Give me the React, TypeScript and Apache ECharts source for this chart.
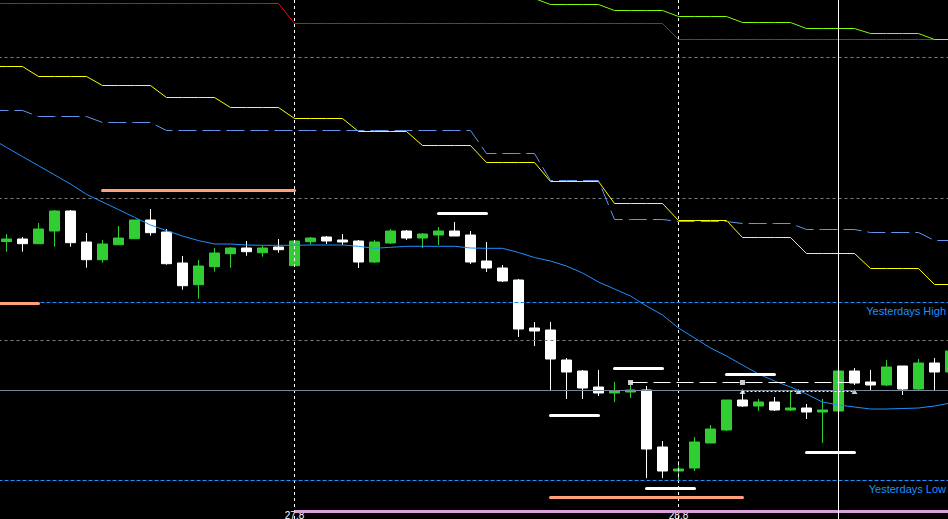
import { useEffect, useRef } from 'react';
import * as echarts from 'echarts';

// ---- candles (bar index 0..59) ----
const opens = [
  1.102405, 1.10243, 1.102383, 1.10251, 1.10271, 1.1024, 1.102223, 1.102373, 1.102433, 1.10262,
  1.1025, 1.10219, 1.101973, 1.102153, 1.102283, 1.10234, 1.102293, 1.10235, 1.102163, 1.102403,
  1.10245, 1.10242, 1.10241, 1.1022, 1.10239, 1.10251, 1.10244, 1.10247, 1.10251, 1.10247,
  1.10221, 1.10214, 1.10202, 1.10154, 1.10152, 1.10122, 1.10111, 1.10095, 1.10089, 1.1009,
  1.10092, 1.10035, 1.10011, 1.10014, 1.10039, 1.10052, 1.10082, 1.10076, 1.1008, 1.10072,
  1.10074, 1.1007, 1.10071, 1.10111, 1.101, 1.10097, 1.10116, 1.10093, 1.10119, 1.1011,
];
const closes = [
  1.10243, 1.102383, 1.10253, 1.10271, 1.102393, 1.102223, 1.10238, 1.10244, 1.10262, 1.102493,
  1.102183, 1.101963, 1.10216, 1.10229, 1.10234, 1.102303, 1.10234, 1.102323, 1.10241, 1.10244,
  1.10241, 1.1024, 1.1022, 1.1024, 1.10251, 1.10244, 1.10248, 1.10251, 1.10246, 1.1022,
  1.10214, 1.10201, 1.10153, 1.10151, 1.10123, 1.1011, 1.10094, 1.10089, 1.10091, 1.10092,
  1.10033, 1.10011, 1.10013, 1.1004, 1.10053, 1.10082, 1.10076, 1.1008, 1.10072, 1.10074,
  1.1007, 1.10072, 1.10111, 1.10099, 1.10097, 1.10115, 1.10093, 1.10119, 1.1011, 1.10131,
];
const lows = [
  1.102303, 1.102303, 1.102383, 1.102353, 1.102353, 1.102143, 1.102193, 1.102373, 1.102433, 1.102463,
  1.102173, 1.101923, 1.101833, 1.102103, 1.102143, 1.102263, 1.102253, 1.102293, 1.102153, 1.102373,
  1.10238, 1.10237, 1.10214, 1.10219, 1.10238, 1.10242, 1.10234, 1.10237, 1.10246, 1.10218,
  1.1021, 1.102, 1.10145, 1.10136, 1.10092, 1.10083, 1.10083, 1.10086, 1.1008, 1.10084,
  1.10004, 1.10004, 1.10002, 1.10011, 1.10039, 1.10051, 1.10075, 1.10071, 1.10071, 1.10071,
  1.10063, 1.10039, 1.10071, 1.10097, 1.10091, 1.10096, 1.10087, 1.10092, 1.10092, 1.10109,
];
const highs = [
  1.10248, 1.10245, 1.10259, 1.10272, 1.10272, 1.10249, 1.10242, 1.10256, 1.10262, 1.10273,
  1.10253, 1.10226, 1.10222, 1.10234, 1.10235, 1.10241, 1.102363, 1.10243, 1.10241, 1.10245,
  1.10246, 1.10248, 1.10242, 1.10242, 1.10253, 1.10252, 1.10249, 1.10255, 1.1026, 1.10251,
  1.1024, 1.10217, 1.10203, 1.1016, 1.1016, 1.10124, 1.10112, 1.10112, 1.101, 1.10097,
  1.10096, 1.10041, 1.10021, 1.10045, 1.10057, 1.10082, 1.10092, 1.10083, 1.10085, 1.10092,
  1.10078, 1.10083, 1.10111, 1.10114, 1.10112, 1.10122, 1.10116, 1.10123, 1.10124, 1.10133,
];

// ---- indicators (first value belongs to bar -1, then bars 0..59) ----
const firstIndicatorBar = -1;
const movingAverage = [
  1.10344, 1.103346, 1.103254, 1.103163, 1.103071, 1.10298, 1.102876, 1.1028, 1.102724, 1.102647,
  1.10257, 1.102514, 1.10246, 1.102414, 1.10238, 1.10238, 1.10237, 1.102367, 1.102367, 1.102367,
  1.10237, 1.10237, 1.10237, 1.102357, 1.102337, 1.102347, 1.102357, 1.102357, 1.102357, 1.102357,
  1.10234, 1.102337, 1.102337, 1.102295, 1.102245, 1.10221, 1.10216, 1.10209, 1.102, 1.10193,
  1.10186, 1.10176, 1.10167, 1.10154, 1.10144, 1.10134, 1.10126, 1.10117, 1.10108, 1.10101,
  1.10095, 1.10088, 1.1008, 1.10077, 1.10075, 1.10073, 1.10073, 1.100735, 1.10074, 1.10076,
  1.10079,
];
const redLevel = [
  1.104785, 1.104785, 1.104785, 1.104785, 1.104785, 1.104785, 1.104785, 1.104785, 1.104785, 1.104785,
  1.104785, 1.104785, 1.104785, 1.104785, 1.104785, 1.104785, 1.104785, 1.104785, 1.104785, 1.104585,
  1.104585, 1.104585, 1.104585, 1.104585, 1.104585, 1.104585, 1.104585, 1.104585, 1.104585, 1.104585,
  1.104585, 1.104585, 1.104585, 1.104585, 1.104585, 1.104585, 1.104585, 1.104585, 1.104585, 1.104585,
  1.104585, 1.104585, 1.104585, 1.104425, 1.104425, 1.104425, 1.104425, 1.104425, 1.104425, 1.104425,
  1.104425, 1.104425, 1.104425, 1.104425, 1.104425, 1.104425, 1.104425, 1.104425, 1.104425, 1.104425,
  1.104425,
];
const greenLevel = [
  null, null, null, null, null, null, null, null, null, null,
  null, null, null, null, null, null, null, null, null, null,
  null, null, null, null, null, null, null, null, null, null,
  null, 1.104835, 1.104835, 1.104835, 1.104835, 1.104775, 1.104775, 1.104775, 1.104775, 1.104715,
  1.104715, 1.104715, 1.104715, 1.104655, 1.104655, 1.104655, 1.104655, 1.104595, 1.104595, 1.104595,
  1.104595, 1.104535, 1.104535, 1.104535, 1.104535, 1.104485, 1.104485, 1.104485, 1.104485, 1.104425,
  1.104425,
];
const yellowLevel = [
  1.104155, 1.104155, 1.104155, 1.104055, 1.104055, 1.104055, 1.104055, 1.103965, 1.103965, 1.103965,
  1.103965, 1.103845, 1.103845, 1.103845, 1.103845, 1.103745, 1.103745, 1.103745, 1.103745, 1.103635,
  1.103635, 1.103635, 1.103635, 1.103505, 1.103505, 1.103505, 1.103505, 1.103365, 1.103365, 1.103365,
  1.103365, 1.103195, 1.103195, 1.103195, 1.103195, 1.103005, 1.103005, 1.103005, 1.103005, 1.102785,
  1.102785, 1.102785, 1.102785, 1.102615, 1.102615, 1.102615, 1.102615, 1.102445, 1.102445, 1.102445,
  1.102445, 1.102285, 1.102285, 1.102285, 1.102285, 1.102135, 1.102135, 1.102135, 1.102135, 1.101975,
  1.101975,
];
const blueLevel = [
  1.103715, 1.103715, 1.103715, 1.103655, 1.103655, 1.103655, 1.103655, 1.103595, 1.103595, 1.103595,
  1.103595, 1.103515, 1.103515, 1.103515, 1.103515, 1.103515, 1.103515, 1.103515, 1.103515, 1.103515,
  1.103515, 1.103515, 1.103515, 1.103515, 1.103515, 1.103515, 1.103515, 1.103515, 1.103515, 1.103515,
  1.103515, 1.103285, 1.103285, 1.103285, 1.103285, 1.103015, 1.103015, 1.103015, 1.103015, 1.102625,
  1.102625, 1.102625, 1.102625, 1.102605, 1.102605, 1.102605, 1.102605, 1.102585, 1.102585, 1.102585,
  1.102585, 1.102525, 1.102525, 1.102525, 1.102525, 1.102495, 1.102495, 1.102495, 1.102495, 1.102415,
  1.102415,
];

// ---- horizontal levels ----
const gridLevels = [1.104245, 1.102835, 1.101415];
const yesterdaysHigh = 1.101795;
const yesterdaysLow = 1.100015;
const bidPrice = 1.100915;
const levelLabels = ['Yesterdays High', 'Yesterdays Low'];

// pivot-style segments
const orangeStart = [-6, 6, 34];
const orangeEnd = [2, 18, 46];
const orangePrice = [1.101785, 1.102915, 1.099845];
const whiteStart = [27, 34, 38, 40, 45, 50];
const whiteEnd = [30, 37, 41, 43, 48, 53];
const whitePrice = [1.102685, 1.100665, 1.101135, 1.099935, 1.101075, 1.100295];
const pinkStart = 18;
const pinkPrice = 1.099705;

// white dashed level with square markers, dotted level with arrow markers
const dashedLevelPrice = 1.100995;
const dashedLevelRange = [39, 53];
const squareBars = [39, 46];
const dottedLevelPrice = 1.100905;
const dottedLevelRange = [46, 53];
const arrowBars = [46, 49.5, 53];

// time
const dayStartBars = [18, 42];
const dayLabels = ['27.8', '28.8'];
const cursorBar = 52;

const xMin = -0.40625;
const xMax = 58.84375;
const yMin = 1.09963;
const yMax = 1.10482;
const lastBar = 60;

const ind = (arr: (number | null)[]) =>
  arr.map((v, i) => [i + firstIndicatorBar, v]).filter((p) => p[1] !== null);

const lineSeries = (data: any[], color: string, width: number, type: any = 'solid', cap = 'butt') => ({
  type: 'line',
  data,
  symbol: 'none',
  silent: true,
  clip: true,
  lineStyle: { color, width, type, cap },
});

export default function App() {
  const ref = useRef<HTMLDivElement>(null);
  useEffect(() => {
    const chart = echarts.init(ref.current!, null, { renderer: 'svg' });
    const series: any[] = [];
    gridLevels.forEach((v) => series.push(lineSeries([[-2, v], [lastBar, v]], '#808080', 1, [3, 3])));
    dayStartBars.forEach((k) => series.push(lineSeries([[k, yMin], [k, yMax]], '#ffffff', 1, [3, 3])));
    series.push(lineSeries([[-2, bidPrice], [lastBar, bidPrice]], '#778899', 1));
    series.push({
      type: 'candlestick',
      data: opens.map((o, i) => [i, o, closes[i], lows[i], highs[i]]),
      barWidth: 10,
      silent: true,
      clip: true,
      itemStyle: {
        color: '#32cd32',
        color0: '#ffffff',
        borderColor: '#32cd32',
        borderColor0: '#ffffff',
        borderWidth: 1,
      },
    });
    series.push(lineSeries(ind(redLevel), '#ff0000', 1));
    series.push(lineSeries(ind(greenLevel), '#7fff00', 1));
    series.push(lineSeries(ind(yellowLevel), '#ffff00', 1));
    series.push(lineSeries(ind(blueLevel), '#6495ed', 1, [18, 6]));
    series.push(lineSeries(ind(movingAverage), '#1e90ff', 1));
    series.push(lineSeries([[-2, yesterdaysHigh], [lastBar, yesterdaysHigh]], '#1e90ff', 1, [4, 2]));
    series.push(lineSeries([[-2, yesterdaysLow], [lastBar, yesterdaysLow]], '#1e90ff', 1, [4, 2]));
    orangeStart.forEach((s, i) =>
      series.push(lineSeries([[s, orangePrice[i]], [orangeEnd[i], orangePrice[i]]], '#ffa07a', 3, 'solid', 'round')),
    );
    series.push(lineSeries([[pinkStart, pinkPrice], [lastBar, pinkPrice]], '#dda0dd', 3));
    whiteStart.forEach((s, i) =>
      series.push(lineSeries([[s, whitePrice[i]], [whiteEnd[i], whitePrice[i]]], '#ffffff', 3, 'solid', 'round')),
    );
    series.push(
      lineSeries(
        [[dashedLevelRange[0], dashedLevelPrice], [dashedLevelRange[1], dashedLevelPrice]],
        '#ffffff', 1, [17, 6],
      ),
    );
    series.push({
      type: 'scatter',
      silent: true,
      symbol: 'rect',
      symbolSize: 5,
      itemStyle: { color: '#ffffff' },
      data: squareBars.map((k) => [k, dashedLevelPrice]),
    });
    series.push(
      lineSeries(
        [[dottedLevelRange[0], dottedLevelPrice], [dottedLevelRange[1], dottedLevelPrice]],
        '#ffffff', 1, [2, 2],
      ),
    );
    series.push({
      type: 'scatter',
      silent: true,
      symbol: 'triangle',
      symbolSize: [6, 5],
      itemStyle: { color: '#ffffff' },
      data: arrowBars.map((k) => [k, dottedLevelPrice]),
    });
    series.push(lineSeries([[cursorBar, yMin], [cursorBar, yMax]], '#ffffff', 1));

    chart.setOption({
      animation: false,
      backgroundColor: '#000000',
      grid: { left: 0, right: 0, top: 0, bottom: 0, containLabel: false, outerBoundsMode: 'none' },
      xAxis: {
        type: 'value', min: xMin, max: xMax, show: false,
        splitLine: { show: false }, axisLabel: { show: false }, axisTick: { show: false }, axisLine: { show: false },
      },
      yAxis: {
        type: 'value', min: yMin, max: yMax, show: false,
        splitLine: { show: false }, axisLabel: { show: false }, axisTick: { show: false }, axisLine: { show: false },
      },
      series,
    });

    const px = (k: number, p: number) => chart.convertToPixel({ gridIndex: 0 }, [k, p]) as number[];
    const graphic: any[] = [];
    dayStartBars.forEach((k, i) => {
      const [x] = px(k, yMin);
      graphic.push({
        type: 'text', silent: true, z: -1,
        x: x, y: 510,
        style: {
          text: dayLabels[i], fill: '#ffffff', font: '10px "Liberation Sans", Arial, sans-serif',
          align: 'center', verticalAlign: 'top',
        },
      });
    });
    [yesterdaysHigh, yesterdaysLow].forEach((p, i) => {
      const [x, y] = px(xMax, p);
      graphic.push({
        type: 'text', silent: true,
        x: x - 2, y: y + 2.5,
        style: {
          text: levelLabels[i], fill: '#1e90ff', font: '11px "Liberation Sans", Arial, sans-serif',
          align: 'right', verticalAlign: 'top',
        },
      });
    });
    chart.setOption({ graphic });
    return () => chart.dispose();
  }, []);
  return <div ref={ref} style={{ position: 'fixed', left: 0, top: 0, width: 948, height: 519 }} />;
}
